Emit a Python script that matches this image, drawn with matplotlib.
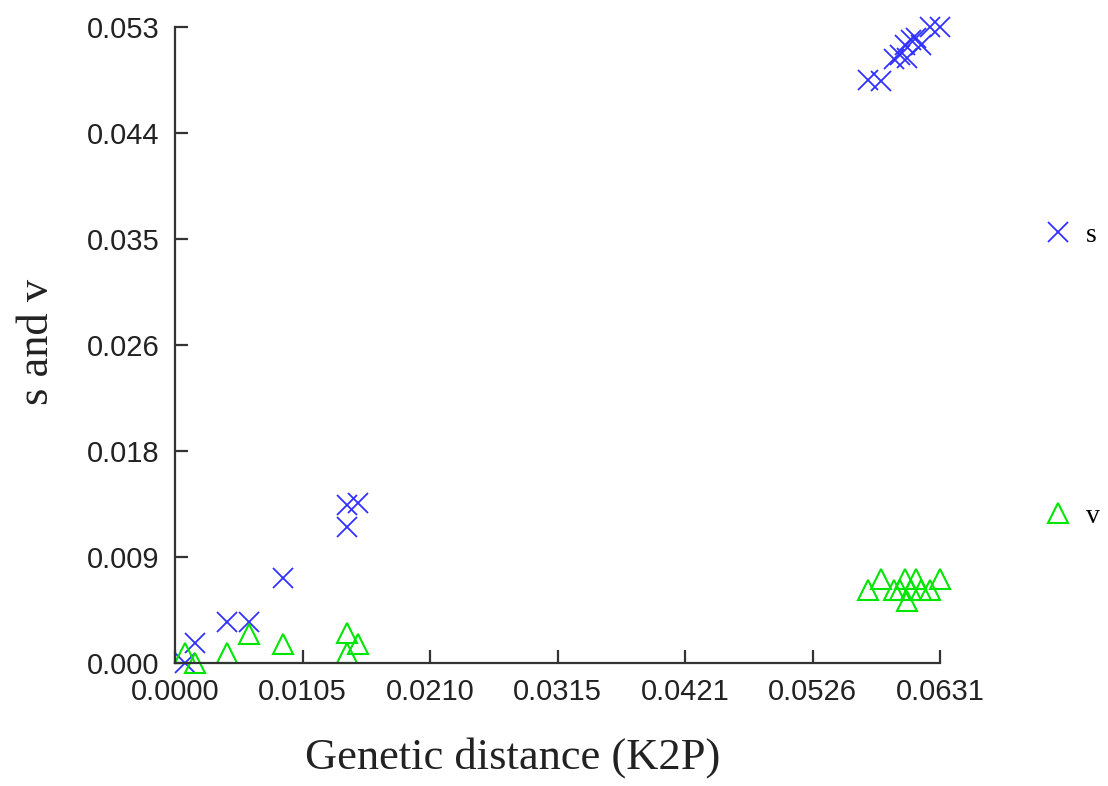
import matplotlib
matplotlib.use("Agg")
import matplotlib.pyplot as plt
from matplotlib.lines import Line2D

# K2P genetic distance and the matching transitions (s) / transversions (v)
dist = [0.0008, 0.00165, 0.0043, 0.0061, 0.0089, 0.0142, 0.0142, 0.0151,
        0.0572, 0.0582, 0.0593, 0.0598, 0.0602, 0.0604, 0.0607, 0.0611,
        0.0615, 0.0623, 0.0631]
s_vals = [0.0, 0.00167, 0.0034, 0.0034, 0.0071, 0.0113, 0.0132, 0.0133,
          0.0486, 0.0485, 0.0503, 0.0507, 0.0515, 0.0504, 0.0519, 0.0521,
          0.0515, 0.0530, 0.0530]
v_vals = [0.0008, 0.0, 0.0008, 0.0024, 0.0016, 0.0025, 0.0008, 0.0016,
          0.0061, 0.0070, 0.0061, 0.0061, 0.0070, 0.0052, 0.0061, 0.0070,
          0.0061, 0.0061, 0.0070]

x_max = 0.0631
y_max = 0.053
x_ticklabels = ["0.0000", "0.0105", "0.0210", "0.0315", "0.0421", "0.0526", "0.0631"]
y_ticklabels = ["0.000", "0.009", "0.018", "0.026", "0.035", "0.044", "0.053"]

s_color = "#3030ff"
v_color = "#00e600"
axis_color = "#333333"

fig = plt.figure(figsize=(11.08, 7.86), dpi=100)
ax = fig.add_axes([175 / 1108, 1 - 663 / 786, 765 / 1108, 636 / 786])

ax.plot(dist, s_vals, ls="none", marker="x", ms=14, mew=1.3, color=s_color, clip_on=False)
ax.plot(dist, v_vals, ls="none", marker="^", ms=14, mew=1.5, mfc="none", mec=v_color, clip_on=False)

ax.set_xlim(0, x_max)
ax.set_ylim(0, y_max)
ax.set_xticks([x_max * i / 6 for i in range(7)])
ax.set_xticklabels(x_ticklabels)
ax.set_yticks([y_max * i / 6 for i in range(7)])
ax.set_yticklabels(y_ticklabels)

for side in ("top", "right"):
    ax.spines[side].set_visible(False)
for side in ("left", "bottom"):
    ax.spines[side].set_linewidth(1.6)
    ax.spines[side].set_color(axis_color)

ax.tick_params(direction="in", length=9.5, width=1.6, color=axis_color,
               labelsize=21, labelcolor="#222222")
ax.tick_params(axis="x", pad=11)
ax.tick_params(axis="y", pad=11)
for lab in ax.get_xticklabels() + ax.get_yticklabels():
    lab.set_family("Liberation Sans")

fig.text(513 / 1108, 1 - 758 / 786, "Genetic distance (K2P)", ha="center", va="center",
         fontsize=32, family="Liberation Serif", color="#222222")
fig.text(37 / 1108, 1 - 342 / 786, "s and v", ha="center", va="center", rotation=90,
         fontsize=32, family="Liberation Serif", color="#222222")

h_s = Line2D([], [], ls="none", marker="x", ms=14, mew=1.3, color=s_color)
h_v = Line2D([], [], ls="none", marker="^", ms=14, mew=1.5, mfc="none", mec=v_color)
leg_font = {"family": "Liberation Serif", "size": 20}
leg1 = fig.legend([h_s], ["s"], loc="center left", bbox_to_anchor=(1044 / 1108, 1 - 235 / 786),
                  frameon=False, prop=leg_font, handlelength=1.0, handletextpad=0.5,
                  borderpad=0, borderaxespad=0)
leg2 = fig.legend([h_v], ["v"], loc="center left", bbox_to_anchor=(1044 / 1108, 1 - 516 / 786),
                  frameon=False, prop=leg_font, handlelength=1.0, handletextpad=0.5,
                  borderpad=0, borderaxespad=0)

fig.savefig("out.png", dpi=100)
